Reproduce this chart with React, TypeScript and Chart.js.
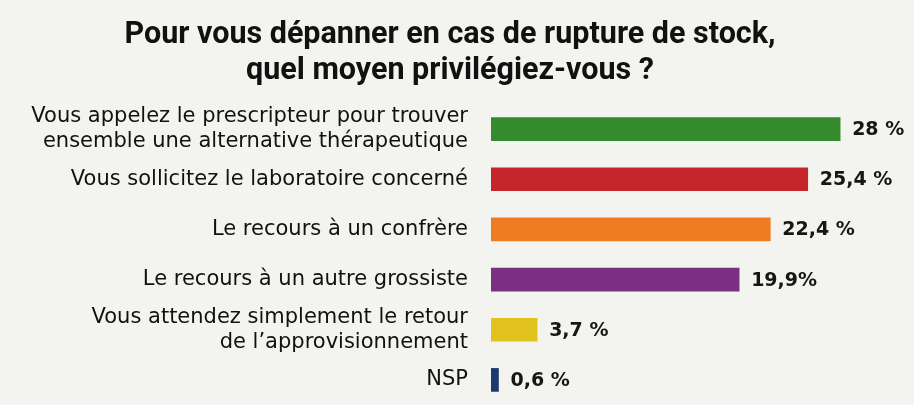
import React, { useEffect, useRef } from "react";
import { Chart, registerables } from "chart.js";

Chart.register(...registerables);

const titleLines = ["Pour vous dépanner en cas de rupture de stock,", "quel moyen privilégiez-vous ?"];
const categories: (string | string[])[] = [
  ["Vous appelez le prescripteur pour trouver", "ensemble une alternative thérapeutique"],
  "Vous sollicitez le laboratoire concerné",
  "Le recours à un confrère",
  "Le recours à un autre grossiste",
  ["Vous attendez simplement le retour", "de l’approvisionnement"],
  "NSP",
];
const values = [28, 25.4, 22.4, 19.9, 3.7, 0.6];
const valueLabels = ["28 %", "25,4 %", "22,4 %", "19,9%", "3,7 %", "0,6 %"];
const barColors = ["#348a2c", "#c4262b", "#ef7b22", "#7a2f82", "#e2c31d", "#1d3770"];

const valueLabelPlugin = {
  id: "valueLabels",
  afterDatasetsDraw(chart: any) {
    const ctx = chart.ctx;
    const meta = chart.getDatasetMeta(0);
    ctx.save();
    ctx.font = "bold 19px 'DejaVu Sans'";
    ctx.fillStyle = "#161616";
    ctx.textAlign = "left";
    ctx.textBaseline = "middle";
    meta.data.forEach((bar: any, i: number) => {
      ctx.fillText(valueLabels[i], bar.x + 12, bar.y + 1);
    });
    ctx.restore();
  },
};

export default function App() {
  const canvasRef = useRef<HTMLCanvasElement>(null);
  useEffect(() => {
    const chart = new Chart(canvasRef.current!, {
      type: "bar",
      data: {
        labels: categories,
        datasets: [
          {
            data: values,
            backgroundColor: barColors,
            barThickness: 23,
          },
        ],
      },
      options: {
        animation: false,
        responsive: true,
        maintainAspectRatio: false,
        indexAxis: "y",
        layout: { padding: { left: 0, right: 14, top: 0, bottom: 0 } },
        plugins: {
          legend: { display: false },
          tooltip: { enabled: false },
          title: {
            display: true,
            text: titleLines,
            color: "#111",
            font: { family: "Roboto", weight: "bold", size: 30.5, lineHeight: 1.18 },
            padding: { top: 17, bottom: 15 },
          },
        },
        scales: {
          x: { display: false, min: 0, max: 32.8 },
          y: {
            grid: { display: false, drawTicks: false },
            border: { display: false },
            ticks: {
              autoSkip: false,
              color: "#111",
              padding: 23,
              font: { family: "DejaVu Sans", size: 21, lineHeight: 1.2 },
            },
            afterFit(scale: any) {
              scale.width = 491;
              scale.paddingTop = 0;
              scale.paddingBottom = 0;
            },
          },
        },
      },
      plugins: [valueLabelPlugin],
    });
    return () => chart.destroy();
  }, []);
  return (
    <div
      style={{
        position: "fixed",
        left: 0,
        top: 0,
        width: 914,
        height: 405,
        background: "#f3f3f0",
      }}
    >
      <canvas ref={canvasRef} />
    </div>
  );
}
